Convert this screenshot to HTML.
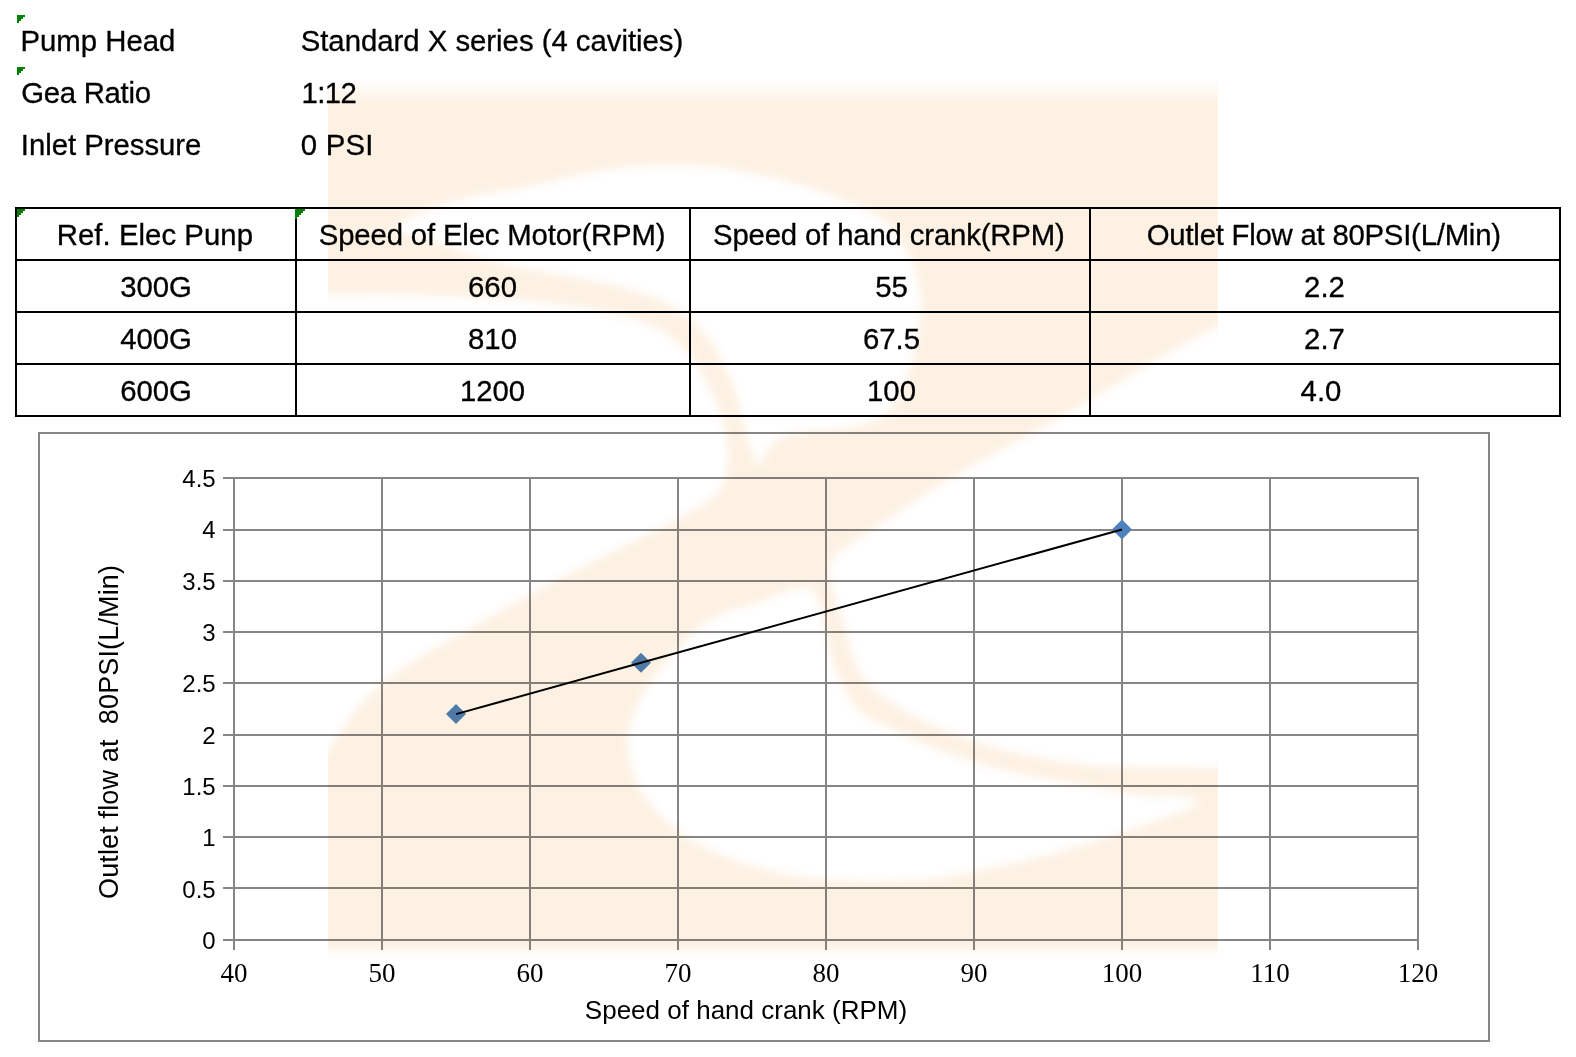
<!DOCTYPE html>
<html>
<head>
<meta charset="utf-8">
<style>
html,body{margin:0;padding:0;background:#fff;}
body{width:1576px;height:1057px;overflow:hidden;position:relative;}
svg{position:absolute;left:0;top:0;display:block;}
.t{font-family:"Liberation Sans",Arial,sans-serif;font-size:29.33px;fill:#000;stroke:#000;stroke-width:0.3px;}
.c{text-anchor:middle;}
.yl{font-family:"Liberation Sans",Arial,sans-serif;font-size:24px;fill:#000;text-anchor:end;}
.xl{font-family:"Liberation Serif","Times New Roman",serif;font-size:27px;fill:#000;text-anchor:middle;}
.ti{font-family:"Liberation Sans",Arial,sans-serif;font-size:26px;fill:#000;text-anchor:middle;}
</style>
</head>
<body>
<svg width="1576" height="1057" viewBox="0 0 1576 1057" xmlns="http://www.w3.org/2000/svg">
  <!-- top labels -->
  <g class="t">
    <text x="20.5" y="51" textLength="154.9" lengthAdjust="spacing" style="text-anchor:start">Pump Head</text>
    <text x="21.3" y="103" textLength="129.7" lengthAdjust="spacing" style="text-anchor:start">Gea Ratio</text>
    <text x="20.8" y="155" textLength="180.6" lengthAdjust="spacing" style="text-anchor:start">Inlet Pressure</text>
    <text x="300.7" y="51" textLength="382.6" lengthAdjust="spacing" style="text-anchor:start">Standard X series (4 cavities)</text>
    <text x="301.5" y="103" textLength="55.3" lengthAdjust="spacing" style="text-anchor:start">1:12</text>
    <text x="300.8" y="155" textLength="72.7" lengthAdjust="spacing" style="text-anchor:start">0 PSI</text>
  </g>
  <!-- green comment markers -->
  <g fill="#008000" shape-rendering="crispEdges">
    <path d="M17 15h8v2h-2v2h-2v2h-2v2h-2z"/>
    <path d="M17 67h8v2h-2v2h-2v2h-2v2h-2z"/>
  </g>

  <!-- table -->
  <g fill="#000" shape-rendering="crispEdges">
    <rect x="15" y="207" width="1546" height="2"/>
    <rect x="15" y="259" width="1546" height="2"/>
    <rect x="15" y="311" width="1546" height="2"/>
    <rect x="15" y="363" width="1546" height="2"/>
    <rect x="15" y="415" width="1546" height="2"/>
    <rect x="15" y="207" width="2" height="210"/>
    <rect x="295" y="207" width="2" height="210"/>
    <rect x="689" y="207" width="2" height="210"/>
    <rect x="1089" y="207" width="2" height="210"/>
    <rect x="1559" y="207" width="2" height="210"/>
  </g>
  <g fill="#008000" shape-rendering="crispEdges">
    <path d="M17 209h8v2h-2v2h-2v2h-2v2h-2z"/>
    <path d="M295 209h10v2h-2v2h-2v2h-2v2h-2v2h-2z"/>
  </g>
  <g class="t c">
    <text x="56.7" y="245" textLength="196.3" lengthAdjust="spacing" style="text-anchor:start">Ref. Elec Punp</text>
    <text x="318.8" y="245" textLength="346.7" lengthAdjust="spacing" style="text-anchor:start">Speed of Elec Motor(RPM)</text>
    <text x="713.0" y="245" textLength="351.8" lengthAdjust="spacing" style="text-anchor:start">Speed of hand crank(RPM)</text>
    <text x="1146.8" y="245" textLength="354.2" lengthAdjust="spacing" style="text-anchor:start">Outlet Flow at 80PSI(L/Min)</text>
    <text x="156" y="297">300G</text>
    <text x="492.5" y="297">660</text>
    <text x="891.5" y="297">55</text>
    <text x="1324.5" y="297">2.2</text>
    <text x="156" y="349">400G</text>
    <text x="492.5" y="349">810</text>
    <text x="891.5" y="349">67.5</text>
    <text x="1324.5" y="349">2.7</text>
    <text x="156" y="401">600G</text>
    <text x="492.5" y="401">1200</text>
    <text x="891.5" y="401">100</text>
    <text x="1321" y="401">4.0</text>
  </g>

  <!-- chart frame -->
  <rect x="39" y="433" width="1450" height="608" fill="none" stroke="#868686" stroke-width="2" shape-rendering="crispEdges"/>
  <g fill="#868686" shape-rendering="crispEdges">
    <rect x="223" y="939" width="1196" height="2"/>
    <rect x="223" y="887" width="1196" height="2"/>
    <rect x="223" y="836" width="1196" height="2"/>
    <rect x="223" y="785" width="1196" height="2"/>
    <rect x="223" y="734" width="1196" height="2"/>
    <rect x="223" y="682" width="1196" height="2"/>
    <rect x="223" y="631" width="1196" height="2"/>
    <rect x="223" y="580" width="1196" height="2"/>
    <rect x="223" y="529" width="1196" height="2"/>
    <rect x="223" y="477" width="1196" height="2"/>
    <rect x="233" y="477" width="2" height="473"/>
    <rect x="381" y="477" width="2" height="473"/>
    <rect x="529" y="477" width="2" height="473"/>
    <rect x="677" y="477" width="2" height="473"/>
    <rect x="825" y="477" width="2" height="473"/>
    <rect x="973" y="477" width="2" height="473"/>
    <rect x="1121" y="477" width="2" height="473"/>
    <rect x="1269" y="477" width="2" height="473"/>
    <rect x="1417" y="477" width="2" height="473"/>
  </g>
  <!-- y labels -->
  <g class="yl">
    <text x="215.7" y="949.0">0</text>
    <text x="215.7" y="897.7">0.5</text>
    <text x="215.7" y="846.3">1</text>
    <text x="215.7" y="795.0">1.5</text>
    <text x="215.7" y="743.7">2</text>
    <text x="215.7" y="692.3">2.5</text>
    <text x="215.7" y="641.0">3</text>
    <text x="215.7" y="589.7">3.5</text>
    <text x="215.7" y="538.3">4</text>
    <text x="215.7" y="487.0">4.5</text>
  </g>
  <!-- x labels -->
  <g class="xl">
    <text x="234" y="982">40</text>
    <text x="382" y="982">50</text>
    <text x="530" y="982">60</text>
    <text x="678" y="982">70</text>
    <text x="826" y="982">80</text>
    <text x="974" y="982">90</text>
    <text x="1122" y="982">100</text>
    <text x="1270" y="982">110</text>
    <text x="1418" y="982">120</text>
  </g>
  <text class="ti" x="746" y="1019">Speed of hand crank (RPM)</text>
  <text class="ti" style="font-size:27px;white-space:pre" transform="translate(117.5 732) rotate(-90)" x="0" y="0" textLength="334" lengthAdjust="spacing">Outlet flow at  80PSI(L/Min)</text>

  <!-- markers + line -->
  <g fill="#4F81BD">
    <path d="M456 704.1l10 10l-10 10l-10 -10z"/>
    <path d="M641 652.8l10 10l-10 10l-10 -10z"/>
    <path d="M1122 519.5l10 10l-10 10l-10 -10z"/>
  </g>
  <polyline points="456,714.1 641,662.8 1122,529.5" fill="none" stroke="#000" stroke-width="2"/>
  <!-- watermark -->
  <defs>
    <filter id="wb" x="-10%" y="-10%" width="120%" height="120%"><feGaussianBlur stdDeviation="4.5"/></filter>
    <clipPath id="wc"><rect x="328" y="70" width="890" height="900"/></clipPath>
    <linearGradient id="wg" gradientUnits="userSpaceOnUse" x1="0" y1="81" x2="0" y2="960">
      <stop offset="0" stop-color="#fff"/>
      <stop offset="0.025" stop-color="#FDF1E3"/>
      <stop offset="0.9807" stop-color="#FDF1E3"/>
      <stop offset="0.9966" stop-color="#fff"/>
    </linearGradient>
  </defs>
  <g style="mix-blend-mode:multiply" clip-path="url(#wc)">
    <rect x="328" y="70" width="890" height="900" fill="url(#wg)"/>
    <g fill="#fff" filter="url(#wb)">
    <path d="M240,520 C240.0,442.5 240.0,332.5 250,295 C260.0,257.5 281.7,295.0 300,295 C318.3,295.0 343.3,295.0 360,295 C376.7,295.0 381.7,294.7 400,295 C418.3,295.3 446.7,295.8 470,297 C493.3,298.2 518.3,299.7 540,302 C561.7,304.3 581.7,307.2 600,311 C618.3,314.8 635.8,318.5 650,325 C664.2,331.5 675.3,340.0 685,350 C694.7,360.0 701.8,373.3 708,385 C714.2,396.7 718.7,408.3 722,420 C725.3,431.7 728.3,443.3 728,455 C727.7,466.7 726.3,480.5 720,490 C713.7,499.5 703.3,504.0 690,512 C676.7,520.0 658.3,528.7 640,538 C621.7,547.3 600.0,557.7 580,568 C560.0,578.3 540.0,589.0 520,600 C500.0,611.0 480.0,622.3 460,634 C440.0,645.7 416.7,658.2 400,670 C383.3,681.8 372.3,691.3 360,705 C347.7,718.7 336.0,742.8 326,752 C316.0,761.2 312.7,758.7 300,760 C287.3,761.3 260.0,800.0 250,760 C240.0,720.0 240.0,597.5 240,520Z"/>
    <path d="M395,228 C396.7,222.5 425.8,211.5 440,206 C454.2,200.5 466.7,198.0 480,195 C493.3,192.0 496.7,192.5 520,188 C543.3,183.5 590.0,171.7 620,168 C650.0,164.3 675.0,164.5 700,166 C725.0,167.5 747.5,171.8 770,177 C792.5,182.2 815.8,189.5 835,197 C854.2,204.5 872.5,211.8 885,222 C897.5,232.2 904.0,245.0 910,258 C916.0,271.0 920.7,282.7 921,300 C921.3,317.3 917.5,343.3 912,362 C906.5,380.7 899.2,401.0 888,412 C876.8,423.0 860.5,424.5 845,428 C829.5,431.5 807.5,430.2 795,433 C782.5,435.8 775.8,439.7 770,445 C764.2,450.3 763.7,465.8 760,465 C756.3,464.2 751.7,450.8 748,440 C744.3,429.2 742.3,413.3 738,400 C733.7,386.7 728.3,372.0 722,360 C715.7,348.0 709.5,337.7 700,328 C690.5,318.3 678.3,308.8 665,302 C651.7,295.2 637.5,291.5 620,287 C602.5,282.5 580.0,279.0 560,275 C540.0,271.0 516.7,267.0 500,263 C483.3,259.0 471.7,255.0 460,251 C448.3,247.0 440.8,242.8 430,239 C419.2,235.2 393.3,233.5 395,228Z"/>
    <path d="M888,727 C874.0,720.3 867.3,718.5 860,712 C852.7,705.5 848.7,696.7 844,688 C839.3,679.3 835.0,669.2 832,660 C829.0,650.8 828.7,643.8 826,633 C823.3,622.2 820.3,602.5 816,595 C811.7,587.5 809.3,586.8 800,588 C790.7,589.2 775.0,596.7 760,602 C745.0,607.3 725.3,610.3 710,620 C694.7,629.7 679.7,646.7 668,660 C656.3,673.3 646.7,686.7 640,700 C633.3,713.3 628.7,726.7 628,740 C627.3,753.3 630.7,767.5 636,780 C641.3,792.5 649.3,804.2 660,815 C670.7,825.8 683.3,836.2 700,845 C716.7,853.8 738.3,862.2 760,868 C781.7,873.8 803.3,878.0 830,880 C856.7,882.0 891.7,882.3 920,880 C948.3,877.7 973.3,871.7 1000,866 C1026.7,860.3 1055.0,853.2 1080,846 C1105.0,838.8 1130.3,830.2 1150,823 C1169.7,815.8 1194.7,807.7 1198,803 C1201.3,798.3 1178.0,796.2 1170,795 C1162.0,793.8 1165.7,797.8 1150,796 C1134.3,794.2 1099.8,788.2 1076,784 C1052.2,779.8 1029.0,776.3 1007,771 C985.0,765.7 963.8,759.3 944,752 C924.2,744.7 902.0,733.7 888,727Z"/>
    <path d="M1300,540 C1300.0,465.0 1300.0,355.0 1290,318 C1280.0,281.0 1252.0,316.7 1240,318 C1228.0,319.3 1234.0,317.8 1218,326 C1202.0,334.2 1167.7,353.2 1144,367 C1120.3,380.8 1098.7,395.8 1076,409 C1053.3,422.2 1030.7,433.3 1008,446 C985.3,458.7 959.7,473.0 940,485 C920.3,497.0 905.0,508.0 890,518 C875.0,528.0 860.0,537.2 850,545 C840.0,552.8 832.3,555.8 830,565 C827.7,574.2 833.5,589.7 836,600 C838.5,610.3 840.7,614.3 845,627 C849.3,639.7 852.5,662.3 862,676 C871.5,689.7 887.0,699.5 902,709 C917.0,718.5 933.5,725.8 952,733 C970.5,740.2 991.7,746.8 1013,752 C1034.3,757.2 1062.0,761.5 1080,764 C1098.0,766.5 1098.0,766.3 1121,767 C1144.0,767.7 1198.2,767.8 1218,768 C1237.8,768.2 1228.0,768.0 1240,768 C1252.0,768.0 1280.0,806.0 1290,768 C1300.0,730.0 1300.0,615.0 1300,540Z"/>
    </g>
  </g>
</svg>
</body>
</html>
